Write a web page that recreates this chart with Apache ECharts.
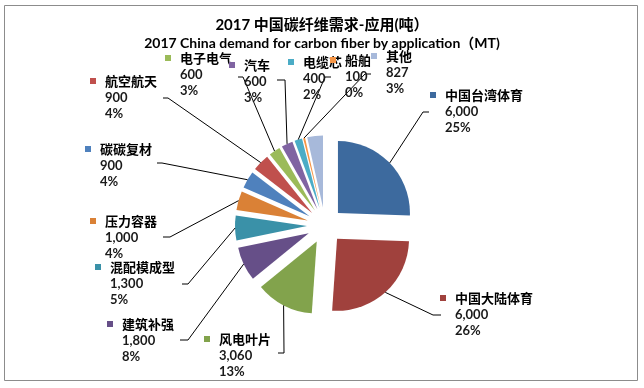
<!DOCTYPE html>
<html><head><meta charset="utf-8">
<script src="https://cdn.jsdelivr.net/npm/echarts@6/dist/echarts.min.js"></script>
<style>html,body{margin:0;padding:0;background:#fff}#c{width:644px;height:388px}</style>
</head><body><div id="c"></div>
<script>
// ---- data ----
const categories = ['中国台湾体育','中国大陆体育','风电叶片','建筑补强','混配模成型','压力容器','碳碳复材','航空航天','电子电气','汽车','电缆芯','船舶','其他'];
const values = [6000, 6000, 3060, 1800, 1300, 1000, 900, 900, 600, 600, 400, 100, 827];
const percentLabels = ['25%','26%','13%','8%','5%','4%','4%','4%','3%','3%','2%','0%','3%'];
const titleText = '2017 中国碳纤维需求-应用(吨）';
const subtitleText = '2017 China demand for carbon fiber by application（MT)';

// ---- styles / layout (not data) ----
const sliceColors = ['#3D6A9E','#A0413D','#82A34C','#664F88','#3A91A8','#DA8136','#4F81BD','#C0504D','#9BBB59','#8064A2','#4BACC6','#F79646','#A7B9DA'];
// label placement: [marker centre x, first line centre y]
const labelPlace = [[433,95],[443,298],[207,339],[110,324],[98,267],[93,221],[88,149],[93,81],[168,58],[232,65],[291,62],[333,60],[374,56]];
// leader tick: [bend x, bend y, end x]  (null = no leader)
const leaderTick = [[423,112,429],[433,315,441],[284,353,278],[188,340,180],[188,284,182],[170,237,163],[162,163,157],[168,98,163],[243,77,238],[285,80,277],[325,77,331],[365,74,371],null];
const EXPLODE = 18;
const LH = 16.5;
const CENTER = [325, 225.5];
const RADIUS = 72;

const chart = echarts.init(document.getElementById('c'), null, {renderer: 'canvas'});
const fmt = v => v.toLocaleString('en-US');
const rich = {
  g: {width: 9, lineHeight: LH},
  s: {width: 15, lineHeight: LH},
  n: {fontSize: 13, fontWeight: 'bold', color: '#000', fontFamily: '"Noto Sans CJK SC"', lineHeight: LH},
  v: {fontSize: 13, fontWeight: 'bold', color: '#1a1a1a', fontFamily: 'Lato, "Liberation Sans"', lineHeight: LH},
  p: {fontSize: 13, fontWeight: 'bold', color: '#1a1a1a', fontFamily: 'Lato, "Liberation Sans"', lineHeight: LH}
};
sliceColors.forEach((c, i) => { rich['m' + i] = {width: 6, height: 6, backgroundColor: c, lineHeight: LH}; });

chart.setOption({
  animation: false,
  backgroundColor: '#fff',
  title: [
    {text: titleText, left: 'center', top: 13, textStyle: {fontSize: 15, fontWeight: 'bold', color: '#000', fontFamily: 'Lato, "Noto Sans CJK SC"'}},
    {text: subtitleText, left: 'center', top: 31, textStyle: {fontSize: 14, fontWeight: 'bold', color: '#000', fontFamily: 'Lato, "Noto Sans CJK SC"'}}
  ],
  graphic: [{type: 'rect', shape: {x: 4.5, y: 5.5, width: 633, height: 375}, style: {fill: 'none', stroke: '#8c8c8c', lineWidth: 1}, silent: true}],
  series: [{
    // exploded slices
    type: 'pie',
    center: CENTER,
    radius: RADIUS,
    startAngle: 90,
    clockwise: true,
    selectedMode: 'multiple',
    selectedOffset: EXPLODE,
    emphasis: {disabled: true},
    silent: true,
    itemStyle: {borderWidth: 0},
    label: {show: false},
    labelLine: {show: false},
    data: categories.map((name, i) => ({name, value: values[i], selected: true, itemStyle: {color: sliceColors[i]}}))
  }, {
    // labels + leader lines
    type: 'pie',
    center: CENTER,
    radius: RADIUS,
    startAngle: 90,
    clockwise: true,
    selectedMode: false,
    avoidLabelOverlap: false,
    emphasis: {disabled: true},
    silent: true,
    z: 3,
    itemStyle: {color: 'rgba(0,0,0,0)', borderWidth: 0},
    data: categories.map((name, i) => ({name, value: values[i], labelLine: {show: leaderTick[i] !== null}})),
    label: {
      show: true, position: 'outside',
      formatter: p => `{m${p.dataIndex}| }{g| }{n|${p.name}}\n{s| }{v|${fmt(p.value)}}\n{s| }{p|${percentLabels[p.dataIndex]}}`,
      rich
    },
    labelLine: {show: true, length: 10, length2: 10, smooth: false, lineStyle: {color: '#000', width: 1}},
    labelLayout: params => {
      const i = params.dataIndex;
      const lp = labelPlace[i];
      const out = {x: lp[0] - 3, y: lp[1] - LH / 2, align: 'left', verticalAlign: 'top'};
      const t = leaderTick[i];
      const pts = params.labelLinePoints;
      if (t && pts) {
        const dx = pts[1][0] - pts[0][0], dy = pts[1][1] - pts[0][1];
        const len = Math.hypot(dx, dy) || 1;
        const a = [pts[0][0] + EXPLODE * dx / len, pts[0][1] + EXPLODE * dy / len];
        out.labelLinePoints = [a, [t[0], t[1]], [t[2], t[1]]];
      }
      return out;
    }
  }]
});
</script></body></html>
